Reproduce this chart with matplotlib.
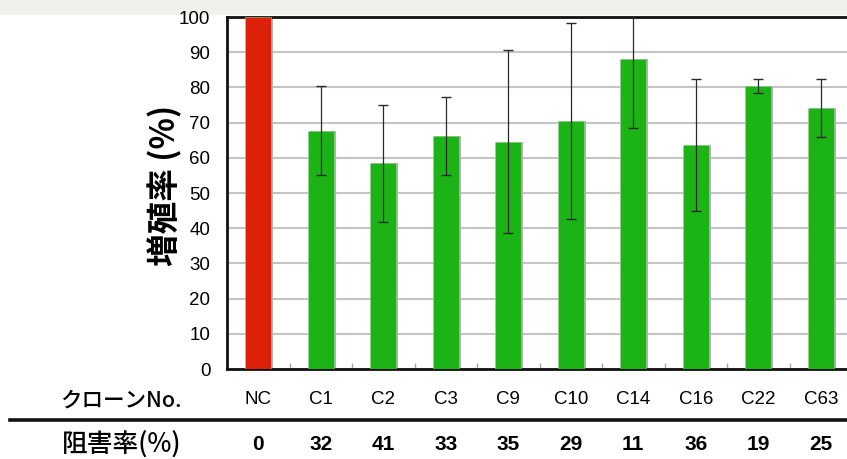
import numpy as np
import matplotlib
matplotlib.use("Agg")
import matplotlib.pyplot as plt
import matplotlib.transforms as mtransforms
from matplotlib.patches import Rectangle
from matplotlib.lines import Line2D

plt.rcParams["font.family"] = ["Liberation Sans", "Noto Sans CJK JP"]

clones = ["NC", "C1", "C2", "C3", "C9", "C10", "C14", "C16", "C22", "C63"]
growth = [100, 67.7, 58.4, 66.2, 64.6, 70.5, 88.0, 63.6, 80.4, 74.1]
growth_err = [0, 12.7, 16.7, 11.2, 25.9, 27.8, 19.5, 18.7, 2.0, 8.2]
inhibition = ["0", "32", "41", "33", "35", "29", "11", "36", "19", "25"]

W, H = 847, 459
fig = plt.figure(figsize=(W / 100, H / 100), dpi=100)

# light band along the top
fig.add_artist(Rectangle((0, 1 - 15 / H), 1, 15 / H, transform=fig.transFigure,
                         facecolor="#f1f1ec", edgecolor="none", zorder=0))

ax = fig.add_axes([227 / W, 90 / H, 625 / W, 352 / H])
x = np.arange(len(clones))
colors = ["#dd200a"] + ["#1bb315"] * (len(clones) - 1)
bw = 0.415

# soft grey shadow behind bars
ax.bar(x + 0.035, growth, width=bw, color="#b4b4b4", zorder=2)
ax.bar(x, growth, width=bw, color=colors, edgecolor="#9fcf9a", linewidth=0.4, zorder=3)
ax.errorbar(x[1:], growth[1:], yerr=growth_err[1:], fmt="none", ecolor="#2a2a2a",
            elinewidth=0.9, capsize=3.5, capthick=1.0, zorder=4)

ax.set_xlim(-0.5, len(clones) - 0.5)
ax.set_ylim(0, 100)
ax.set_yticks(np.arange(0, 101, 10))
ax.yaxis.grid(True, color="#c4c4c4", linewidth=1.5, zorder=1)
ax.set_axisbelow(True)
ax.tick_params(axis="y", length=0, pad=12, labelsize=13.5)
ax.set_xticks(x)
ax.set_xticklabels(clones)
ax.tick_params(axis="x", length=0, pad=16, labelsize=13.5)
ax.set_xticks(x[:-1] + 0.5, minor=True)
ax.tick_params(axis="x", which="minor", direction="in", length=4, width=1, color="#a8a8a8")
for s in ["left", "bottom", "top"]:
    ax.spines[s].set_linewidth(2)
    ax.spines[s].set_color("#111111")
ax.spines["right"].set_visible(False)

fig.text(165 / W, 1 - 185 / H, "増殖率 (%)", rotation=90, ha="center", va="center",
         fontsize=23.5, fontweight="bold", family=["Noto Sans CJK JP"])
fig.text(60 / W, 1 - 401 / H, "クローンNo.", ha="left", va="center",
         fontsize=15.5, fontweight="medium", family=["Noto Sans CJK JP"])
fig.add_artist(Line2D([10 / W, 1], [1 - 420 / H] * 2, transform=fig.transFigure,
                      color="#111111", linewidth=2.6))
fig.text(62 / W, 1 - 445 / H, "阻害率(%)", ha="left", va="center",
         fontsize=18.5, fontweight="medium", family=["Noto Sans CJK JP"])
row = mtransforms.blended_transform_factory(ax.transData, fig.transFigure)
for xi, val in zip(x, inhibition):
    ax.text(xi, 1 - 445 / H, val, transform=row, ha="center", va="center",
            fontsize=15, fontweight="bold")

fig.savefig("out.png", dpi=100)
